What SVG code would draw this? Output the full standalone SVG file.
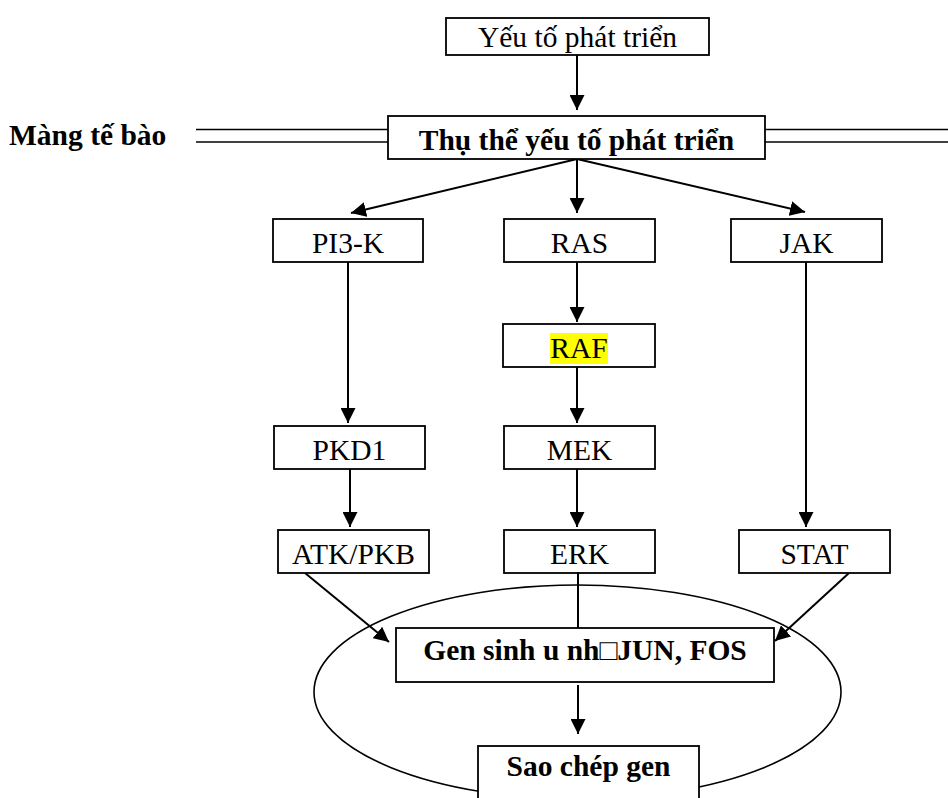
<svg xmlns="http://www.w3.org/2000/svg" width="948" height="798" viewBox="0 0 948 798">
<style>
.box{fill:#fff;stroke:#000;stroke-width:1.8}
.t{font-family:"Liberation Serif","Times New Roman",serif;font-size:29.5px;fill:#000;text-anchor:middle}
.b{font-weight:bold}
.c{stroke:#000;stroke-width:2;fill:none}
.m{stroke:#000;stroke-width:1.6}
</style>
<defs>
<marker id="ah" markerUnits="userSpaceOnUse" markerWidth="15" markerHeight="15" refX="15" refY="7.5" orient="auto">
<path d="M0,0 L15,7.5 L0,15 z" fill="#000"/>
</marker>
</defs>
<g id="membrane">
<line class="m" x1="196" y1="129.5" x2="388" y2="129.5"/>
<line class="m" x1="196" y1="142" x2="388" y2="142"/>
<line class="m" x1="765" y1="129.5" x2="948" y2="129.5"/>
<line class="m" x1="765" y1="142" x2="948" y2="142"/>
<text class="t b" x="9" y="145" style="text-anchor:start">Màng tế bào</text>
</g>
<ellipse id="nucleus" cx="577.5" cy="692" rx="263.5" ry="107" fill="none" stroke="#000" stroke-width="1.6"/>
<g id="connectors">
<line class="c" x1="577" y1="55" x2="577" y2="110" marker-end="url(#ah)"/>
<line class="c" x1="577" y1="159" x2="351" y2="213" marker-end="url(#ah)"/>
<line class="c" x1="577" y1="159" x2="577" y2="213" marker-end="url(#ah)"/>
<line class="c" x1="577" y1="159" x2="805" y2="212" marker-end="url(#ah)"/>
<line class="c" x1="348" y1="262" x2="348" y2="423" marker-end="url(#ah)"/>
<line class="c" x1="577" y1="262" x2="577" y2="322" marker-end="url(#ah)"/>
<line class="c" x1="577" y1="367" x2="577" y2="423" marker-end="url(#ah)"/>
<line class="c" x1="806" y1="262" x2="806" y2="527" marker-end="url(#ah)"/>
<line class="c" x1="350" y1="469" x2="350" y2="527" marker-end="url(#ah)"/>
<line class="c" x1="577" y1="469" x2="577" y2="527" marker-end="url(#ah)"/>
<line class="c" x1="305" y1="573" x2="389" y2="642" marker-end="url(#ah)"/>
<line class="c" x1="849" y1="573" x2="775" y2="641" marker-end="url(#ah)"/>
<line class="c" x1="578" y1="572" x2="578" y2="628"/>
<line class="c" x1="578" y1="685" x2="578" y2="734" marker-end="url(#ah)"/>
</g>
<g id="n-yeuto"><rect class="box" x="446" y="18" width="263" height="37"/><text class="t" x="577.5" y="47">Yếu tố phát triển</text></g>
<g id="n-thuthe"><rect class="box" x="388" y="116" width="377" height="43"/><text class="t b" x="576.5" y="150">Thụ thể yếu tố phát triển</text></g>
<g id="n-pi3k"><rect class="box" x="273" y="219" width="150" height="43"/><text class="t" x="348" y="253">PI3-K</text></g>
<g id="n-ras"><rect class="box" x="504" y="219" width="151" height="43"/><text class="t" x="579.5" y="253">RAS</text></g>
<g id="n-jak"><rect class="box" x="731" y="219" width="151" height="43"/><text class="t" x="806.5" y="253">JAK</text></g>
<g id="n-raf"><rect class="box" x="503" y="324" width="152" height="43"/><rect x="550" y="333" width="58" height="31" fill="#ffff00"/><text class="t" x="579" y="358">RAF</text></g>
<g id="n-pkd1"><rect class="box" x="274" y="426" width="151" height="43"/><text class="t" x="349.5" y="460">PKD1</text></g>
<g id="n-mek"><rect class="box" x="504" y="426" width="151" height="43"/><text class="t" x="579.5" y="460">MEK</text></g>
<g id="n-atk"><rect class="box" x="278" y="530" width="151" height="43"/><text class="t" x="353.5" y="564">ATK/PKB</text></g>
<g id="n-erk"><rect class="box" x="504" y="530" width="151" height="43"/><text class="t" x="579.5" y="564">ERK</text></g>
<g id="n-stat"><rect class="box" x="739" y="530" width="151" height="43"/><text class="t" x="814.5" y="564">STAT</text></g>
<line class="c" x1="578" y1="572" x2="578" y2="628"/>
<g id="n-gen"><rect class="box" x="396" y="628" width="378" height="54"/><text class="t b" x="585" y="660">Gen sinh u nh□JUN, FOS</text></g>
<g id="n-sao"><rect class="box" x="478" y="746" width="221" height="60"/><text class="t b" x="588.5" y="776">Sao chép gen</text></g>
</svg>
